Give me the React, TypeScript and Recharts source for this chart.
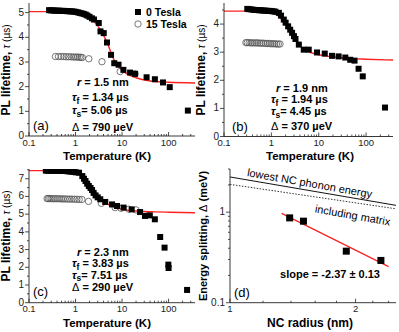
import React from 'react';
import { ComposedChart, Scatter, Line, XAxis, YAxis } from 'recharts';

const FONT = '"Liberation Sans", Arial, Helvetica, sans-serif';
const RED = '#f22';
const INK = '#222';

// panel (a)  r = 1.5 nm   [T (K), tau (us)]
const A_ZERO: [number, number][] = [
  [0.27, 5.1], [0.3, 5.09], [0.33, 5.09], [0.36, 5.08], [0.4, 5.08], [0.44, 5.08], [0.48, 5.07],
  [0.53, 5.07], [0.58, 5.07], [0.64, 5.06], [0.7, 5.06], [0.77, 5.05], [0.85, 5.05], [0.93, 5.04],
  [1.02, 5.03], [1.12, 5.01], [1.23, 4.99], [1.35, 4.97], [1.5, 4.95], [1.65, 4.92], [1.8, 4.88],
  [2.0, 4.83], [2.25, 4.77], [2.5, 4.72], [3.16, 4.58], [3.44, 4.24], [4.04, 4.17], [4.75, 3.79],
  [5.8, 3.29], [6.8, 2.95], [8.4, 2.89], [10.7, 2.68], [14.9, 2.57], [19.1, 2.52], [33.7, 2.38],
  [50.8, 2.3], [76, 2.17], [106, 1.98], [260, 1.03],
];
const A_15T: [number, number][] = [
  [0.37, 3.22], [0.43, 3.22], [0.49, 3.22], [0.56, 3.22], [0.63, 3.21], [0.71, 3.21], [0.8, 3.21],
  [0.9, 3.2], [1.0, 3.2], [1.1, 3.2], [1.2, 3.19], [1.3, 3.19], [1.4, 3.18], [1.93, 3.13],
  [3.7, 3.01], [9.1, 2.61], [19, 2.52],
];
const A_FIT: [number, number][] = [
  [0.1, 5.04], [0.3, 5.04], [0.6, 5.03], [1, 5.0], [1.5, 4.93], [2, 4.8], [2.5, 4.64], [3, 4.46],
  [3.5, 4.28], [4, 4.08], [5, 3.7], [6, 3.3], [7, 3.02], [8.5, 2.8], [10.7, 2.62], [15, 2.45],
  [20, 2.36], [35, 2.25], [60, 2.2], [100, 2.18], [370, 2.15],
];

// panel (b)  r = 1.9 nm
const B_ZERO: [number, number][] = [
  [0.31, 4.54], [0.34, 4.53], [0.38, 4.52], [0.42, 4.51], [0.46, 4.5], [0.51, 4.5], [0.56, 4.49],
  [0.62, 4.49], [0.68, 4.48], [0.75, 4.48], [0.83, 4.47], [0.92, 4.47], [1.02, 4.46], [1.12, 4.45],
  [1.22, 4.44], [1.44, 4.4], [1.6, 4.3], [1.83, 4.16], [2.0, 4.05], [2.26, 3.92], [2.5, 3.8],
  [2.74, 3.69], [3.0, 3.57], [3.23, 3.47], [3.8, 3.27], [4.83, 3.09], [6.15, 3.09], [9.2, 2.99],
  [13.4, 2.95], [19.1, 2.87], [26.3, 2.85], [36.4, 2.81], [46.3, 2.73], [57, 2.7], [69.4, 2.41],
  [85, 2.14], [251, 1.03],
];
const B_15T: [number, number][] = [
  [0.29, 3.34], [0.31, 3.34], [0.34, 3.34], [0.37, 3.33], [0.4, 3.33], [0.44, 3.33], [0.48, 3.33],
  [0.52, 3.33], [0.57, 3.32], [0.62, 3.32], [0.68, 3.32], [0.75, 3.31], [0.82, 3.31], [0.9, 3.31],
  [0.98, 3.3], [1.07, 3.3], [1.17, 3.3], [1.28, 3.29], [1.4, 3.29], [1.52, 3.29],
];
const B_FIT: [number, number][] = [
  [0.1, 4.46], [0.5, 4.46], [0.8, 4.44], [1, 4.41], [1.3, 4.33], [1.6, 4.2], [2, 4.0], [2.5, 3.75],
  [3, 3.52], [3.5, 3.36], [4, 3.24], [5, 3.1], [6, 3.02], [8, 2.95], [10, 2.91], [15, 2.86],
  [20, 2.83], [30, 2.8], [50, 2.77], [100, 2.75], [370, 2.72],
];

// panel (c)  r = 2.3 nm
const C_ZERO: [number, number][] = [
  [0.23, 7.46], [0.25, 7.46], [0.27, 7.46], [0.3, 7.45], [0.33, 7.45], [0.36, 7.45], [0.4, 7.45],
  [0.44, 7.44], [0.48, 7.44], [0.53, 7.44], [0.58, 7.44], [0.64, 7.43], [0.7, 7.42], [0.77, 7.41],
  [0.85, 7.4], [0.93, 7.38], [1.02, 7.36], [1.19, 7.34], [1.4, 7.15], [1.52, 7.0], [1.64, 6.87],
  [1.78, 6.72], [1.93, 6.59], [2.1, 6.48], [2.27, 6.36], [2.45, 6.2], [2.7, 6.06], [3.0, 5.95],
  [3.4, 5.84], [4.35, 5.69], [6.1, 5.55], [7.8, 5.46], [10.8, 5.37], [16.1, 5.27], [24.4, 5.12],
  [31.1, 4.9], [39.5, 4.93], [50.7, 4.71], [66, 3.71], [82, 3.11], [99, 2.15], [100, 1.96],
  [250, 0.72],
];
const C_15T: [number, number][] = [
  [0.245, 5.88], [0.26, 5.88], [0.28, 5.88], [0.3, 5.88], [0.33, 5.87], [0.36, 5.87], [0.4, 5.87],
  [0.44, 5.87], [0.49, 5.86], [0.54, 5.86], [0.6, 5.86], [0.67, 5.85], [0.75, 5.85], [0.84, 5.85],
  [0.95, 5.84], [1.07, 5.84], [1.2, 5.83], [1.37, 5.83], [1.9, 5.72], [3.6, 5.61], [7.1, 5.37],
  [9.5, 5.33], [14, 5.28], [20, 5.24],
];
const C_FIT: [number, number][] = [
  [0.1, 7.46], [0.5, 7.46], [0.8, 7.42], [1, 7.36], [1.3, 7.2], [1.6, 6.95], [2, 6.62], [2.5, 6.28],
  [3, 6.02], [3.5, 5.84], [4, 5.72], [5, 5.55], [6, 5.45], [8, 5.34], [10, 5.28], [15, 5.21],
  [20, 5.18], [30, 5.15], [50, 5.13], [100, 5.11], [370, 5.08],
];

// panel (d)  [radius (nm), splitting (meV)]
const D_POINTS: [number, number][] = [[1.39, 0.865], [1.5, 0.796], [1.9, 0.371], [2.3, 0.293]];
const D_FIT: [number, number][] = [[1.33, 0.97], [2.4, 0.25]];
const D_PHONON: [number, number][] = [[1, 2.45], [2.5, 1.19]];
const D_MATRIX: [number, number][] = [[1, 2.03], [2.5, 1.09]];

// ticks
const T_MAJOR = [0.1, 1, 10, 100];
const T_TICKS = [
  0.1, 0.2, 0.3, 0.4, 0.5, 0.6, 0.7, 0.8, 0.9, 1, 2, 3, 4, 5, 6, 7, 8, 9,
  10, 20, 30, 40, 50, 60, 70, 80, 90, 100, 200, 300,
];
const A_Y_TICKS = [0, 0.5, 1, 1.5, 2, 2.5, 3, 3.5, 4, 4.5, 5];
const A_Y_MAJOR = [0, 1, 2, 3, 4, 5];
const B_Y_TICKS = [0, 0.5, 1, 1.5, 2, 2.5, 3, 3.5, 4, 4.5];
const B_Y_MAJOR = [0, 1, 2, 3, 4];
const C_Y_TICKS = [0, 0.5, 1, 1.5, 2, 2.5, 3, 3.5, 4, 4.5, 5, 5.5, 6, 6.5, 7, 7.5];
const C_Y_MAJOR = [0, 1, 2, 3, 4, 5, 6, 7];
const D_X_TICKS = [1, 1.2, 1.4, 1.6, 1.8, 2, 2.2, 2.4];
const D_X_MAJOR = [1, 2];
const D_Y_TICKS = [0.1, 0.2, 0.3, 0.4, 0.5, 0.6, 0.7, 0.8, 0.9, 1, 2, 3];
const D_Y_MAJOR = [0.1, 1];

const rows = (pts: [number, number][]) => pts.map(([x, y]) => ({ x, y }));

const isMajor = (majors: number[], v: number) => majors.some(m => Math.abs(m - v) < 1e-9);

const xTick = (majors: number[]) => (p: any) => {
  const { x, y, payload } = p;
  const major = isMajor(majors, payload.value);
  return (
    <g>
      <line x1={x} y1={y} x2={x} y2={y - (major ? 4 : 2)} stroke={INK} strokeWidth={0.8} />
      {major && (
        <text x={x} y={y + 9.5} textAnchor="middle" fontSize={9.5} fontFamily={FONT} fill={INK}>
          {String(payload.value)}
        </text>
      )}
    </g>
  );
};

const yTick = (majors: number[]) => (p: any) => {
  const { x, y, payload } = p;
  const major = isMajor(majors, payload.value);
  return (
    <g>
      <line x1={x} y1={y} x2={x - (major ? 4 : 2)} y2={y} stroke={INK} strokeWidth={0.8} />
      {major && (
        <text x={x - 5} y={y + 3} textAnchor="end" fontSize={10} fontFamily={FONT} fill={INK}>
          {String(payload.value)}
        </text>
      )}
    </g>
  );
};

const square = (s: number) => (p: any) =>
  <rect x={p.cx - s / 2} y={p.cy - s / 2} width={s} height={s} fill="#000" />;
const ring = (p: any) =>
  <circle cx={p.cx} cy={p.cy} r={3.2} fill="none" stroke="#555" strokeWidth={0.8} />;

interface PanelProps {
  left: number;
  top: number;
  width: number;
  // plot insets inside the 166px tall panel
  inset: { top: number; right: number; bottom: number; left: number };
  xDomain: [number, number];
  xTicks: number[];
  xMajor: number[];
  yDomain: [number, number];
  yTicks: number[];
  yMajor: number[];
  yLog?: boolean;
  children: React.ReactNode;
}

const Panel = (p: PanelProps) => (
  <div style={{ position: 'absolute', left: p.left, top: p.top }}>
    <ComposedChart width={p.width} height={166}
      margin={{ top: p.inset.top, right: p.inset.right, bottom: 0, left: 0 }}>
      <XAxis
        dataKey="x" type="number" scale="log" domain={p.xDomain} allowDataOverflow
        ticks={p.xTicks} interval={0} height={p.inset.bottom} tickSize={0} tickMargin={0}
        tick={xTick(p.xMajor)} axisLine={{ stroke: INK, strokeWidth: 0.9 }} tickLine={false}
      />
      <YAxis
        type="number" scale={p.yLog ? 'log' : 'linear'} domain={p.yDomain} allowDataOverflow
        ticks={p.yTicks} interval={0} width={p.inset.left} tickSize={0} tickMargin={0}
        tick={yTick(p.yMajor)} axisLine={{ stroke: INK, strokeWidth: 0.9 }} tickLine={false}
      />
      {p.children}
    </ComposedChart>
  </div>
);

const fitLine = (pts: [number, number][]) => (
  <Line data={rows(pts)} dataKey="y" type="monotone" stroke={RED} strokeWidth={1.4}
    dot={false} activeDot={false} isAnimationActive={false} />
);

const T = (props: any) => <text fontFamily={FONT} fill="#000" {...props} />;

interface ParamsProps {
  x: number;
  ys: [number, number, number, number];
  r: string;
  tf: string;
  ts: string;
  d: string;
}

const Params = ({ x, ys, r, tf, ts, d }: ParamsProps) => (
  <g fontSize={11} fontWeight="bold">
    <T x={x + 5} y={ys[0]}><tspan fontStyle="italic">r</tspan> = {r} nm</T>
    <T x={x} y={ys[1]}><tspan fontStyle="italic">τ</tspan><tspan dy={2.5} fontSize={8.5}>f</tspan><tspan dy={-2.5}> = {tf} µs</tspan></T>
    <T x={x} y={ys[2]}><tspan fontStyle="italic">τ</tspan><tspan dy={2.5} fontSize={8.5}>s</tspan><tspan dy={-2.5}>= {ts} µs</tspan></T>
    <T x={x} y={ys[3]}><tspan fontWeight="normal">Δ</tspan>  = {d} µeV</T>
  </g>
);

const YTitle = ({ x, y }: { x: number; y: number }) => (
  <T transform={`translate(${x},${y}) rotate(-90)`} textAnchor="middle" fontSize={12} fontWeight="bold">
    PL lifetime, <tspan fontStyle="italic" fontWeight="normal" fontSize={10}>τ</tspan>
    <tspan fontWeight="normal" fontSize={10}>{'  (µs)'}</tspan>
  </T>
);

export default function App() {
  const iA = { top: 3, right: 4, bottom: 30, left: 29 };
  const iB = { top: 3, right: 6, bottom: 29.5, left: 25 };
  const iC = { top: 3, right: 4, bottom: 29.3, left: 29 };
  const iD = { top: 3, right: 3, bottom: 29.3, left: 31 };
  return (
    <div style={{ position: 'absolute', left: 0, top: 0, width: 399, height: 332, background: '#fff', overflow: 'hidden' }}>
      <Panel left={0} top={0} width={199} inset={iA} xDomain={[0.1, 370]} xTicks={T_TICKS} xMajor={T_MAJOR}
        yDomain={[0, 5.39]} yTicks={A_Y_TICKS} yMajor={A_Y_MAJOR}>
        <Scatter data={rows(A_15T)} dataKey="y" shape={ring} isAnimationActive={false} />
        <Scatter data={rows(A_ZERO)} dataKey="y" shape={square(6)} isAnimationActive={false} />
        {fitLine(A_FIT)}
      </Panel>
      <Panel left={199} top={0} width={200} inset={iB} xDomain={[0.1, 370]} xTicks={T_TICKS} xMajor={T_MAJOR}
        yDomain={[0, 4.75]} yTicks={B_Y_TICKS} yMajor={B_Y_MAJOR}>
        <Scatter data={rows(B_15T)} dataKey="y" shape={ring} isAnimationActive={false} />
        <Scatter data={rows(B_ZERO)} dataKey="y" shape={square(6)} isAnimationActive={false} />
        {fitLine(B_FIT)}
      </Panel>
      <Panel left={0} top={166} width={199} inset={iC} xDomain={[0.1, 370]} xTicks={T_TICKS} xMajor={T_MAJOR}
        yDomain={[0, 7.55]} yTicks={C_Y_TICKS} yMajor={C_Y_MAJOR}>
        <Scatter data={rows(C_15T)} dataKey="y" shape={ring} isAnimationActive={false} />
        <Scatter data={rows(C_ZERO)} dataKey="y" shape={square(6)} isAnimationActive={false} />
        {fitLine(C_FIT)}
      </Panel>
      <Panel left={199} top={166} width={200} inset={iD} xDomain={[1, 2.5]} xTicks={D_X_TICKS} xMajor={D_X_MAJOR}
        yDomain={[0.1, 3]} yTicks={D_Y_TICKS} yMajor={D_Y_MAJOR} yLog>
        <Line data={rows(D_PHONON)} dataKey="y" type="linear" stroke="#111" strokeWidth={1}
          dot={false} activeDot={false} isAnimationActive={false} />
        <Line data={rows(D_MATRIX)} dataKey="y" type="linear" stroke="#333" strokeWidth={1}
          strokeDasharray="1.5 1.5" dot={false} activeDot={false} isAnimationActive={false} />
        <Line data={rows(D_FIT)} dataKey="y" type="linear" stroke={RED} strokeWidth={1.3}
          dot={false} activeDot={false} isAnimationActive={false} />
        <Scatter data={rows(D_POINTS)} dataKey="y" shape={square(7)} isAnimationActive={false} />
      </Panel>

      <svg width={399} height={332} style={{ position: 'absolute', left: 0, top: 0, pointerEvents: 'none' }}>
        {/* (a) */}
        <YTitle x={10} y={70} />
        <T x={107} y={160} textAnchor="middle" fontSize={11.5} fontWeight="bold">Temperature (K)</T>
        <rect x={135} y={9} width={6} height={6} fill="#000" />
        <T x={146} y={16} fontSize={10.5} fontWeight="bold">0 Tesla</T>
        <circle cx={138} cy={24} r={3.2} fill="none" stroke="#555" strokeWidth={0.8} />
        <T x={146} y={28} fontSize={10.5} fontWeight="bold">15 Tesla</T>
        <Params x={72} ys={[85.5, 101, 114, 130.5]} r="1.5" tf="1.34" ts="5.06" d="790" />
        <T x={33} y={130} fontSize={13}>(a)</T>

        {/* (b) */}
        <YTitle x={205} y={70} />
        <T x={310} y={160} textAnchor="middle" fontSize={11.5} fontWeight="bold">Temperature (K)</T>
        <Params x={271} ys={[91.5, 103, 115, 130]} r="1.9" tf="1.94" ts="4.45" d="370" />
        <T x={232} y={131} fontSize={13}>(b)</T>

        {/* (c) */}
        <YTitle x={10} y={236} />
        <T x={107} y={326.5} textAnchor="middle" fontSize={11.5} fontWeight="bold">Temperature (K)</T>
        <Params x={72} ys={[255.5, 267, 278.5, 290.5]} r="2.3" tf="3.83" ts="7.51" d="290" />
        <T x={33} y={296} fontSize={13}>(c)</T>

        {/* (d) */}
        <T transform="translate(207,236) rotate(-90)" textAnchor="middle" fontSize={11} fontWeight="bold">
          Energy splitting, <tspan fontWeight="normal">Δ</tspan> (meV)
        </T>
        <T x={310} y={327} textAnchor="middle" fontSize={12} fontWeight="bold">NC radius (nm)</T>
        <T transform="translate(309,187) rotate(10)" textAnchor="middle" fontSize={11}>lowest NC phonon energy</T>
        <T transform="translate(352,219) rotate(10)" textAnchor="middle" fontSize={11}>including matrix</T>
        <T x={330} y={278} textAnchor="middle" fontSize={11} fontWeight="bold">slope = -2.37  ± 0.13</T>
        <T x={234} y={297} fontSize={13}>(d)</T>
      </svg>
    </div>
  );
}
